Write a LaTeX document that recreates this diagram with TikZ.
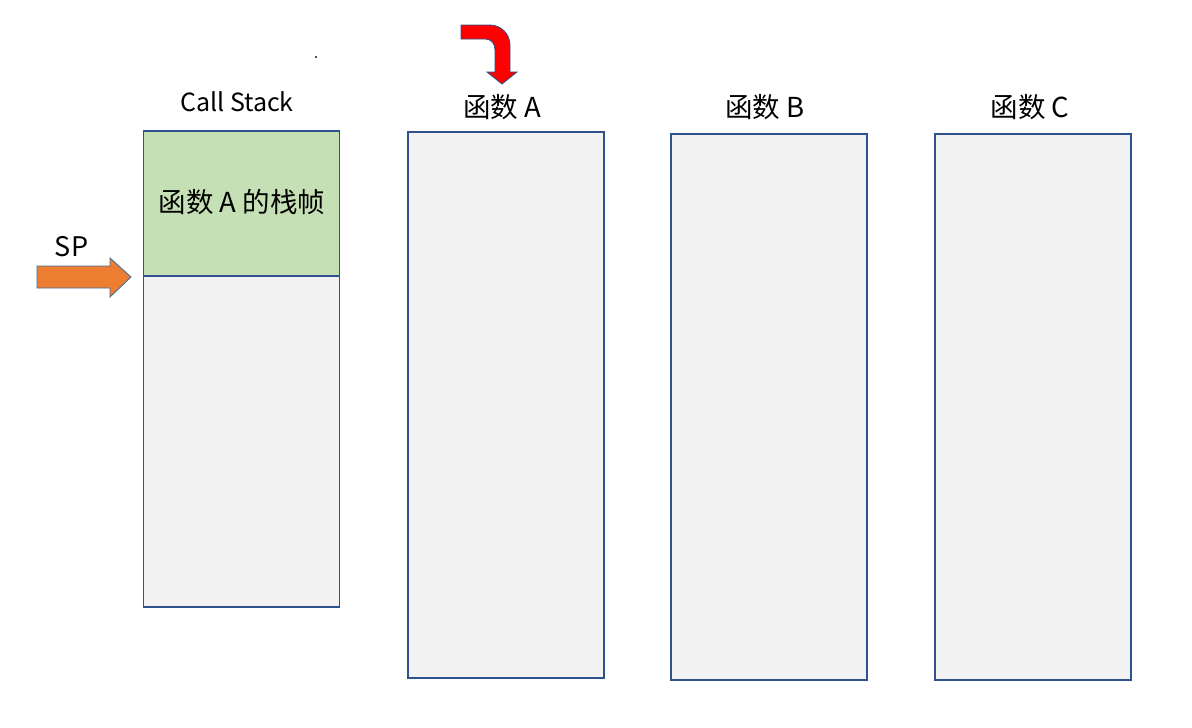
\documentclass[tikz,border=0pt]{standalone}
\usepackage{fontspec}
\setmainfont{Noto Sans CJK SC}
\definecolor{edgeblue}{HTML}{2F528F}
\definecolor{framegreen}{HTML}{C5E0B4}
\definecolor{framegray}{HTML}{F2F2F2}
\definecolor{sporange}{HTML}{ED7D31}
\definecolor{spedge}{HTML}{41719C}
\begin{document}
\begin{tikzpicture}[x=1pt,y=-1pt,
  membox/.style={draw=edgeblue,line width=1.3pt,fill=framegray,inner sep=0pt,minimum width=196pt},
  framebox/.style={draw=edgeblue,line width=1.3pt,fill=framegreen,inner sep=0pt,minimum width=196pt},
  title/.style={anchor=base,inner sep=0pt,font=\fontsize{25}{30}\selectfont},
  cjktitle/.style={anchor=base,inner sep=0pt,font=\fontsize{27.5}{32}\selectfont}]
\useasboundingbox (0,0) rectangle (1192,728);
\fill[white] (0,0) rectangle (1192,728);
% call stack
\node[membox,minimum height=331pt] (stackfree) at (241.5,441.5) {};
\node[framebox,minimum height=145pt] (frameA) at (241.5,203.5) {};
\node[cjktitle] (frameAtext) at (242,212) {函数 A 的栈帧};
\node[title] (stacktitle) at (237,111) {Call Stack};
% functions
\node[membox,minimum height=546pt] (funcA) at (506,405) {};
\node[membox,minimum height=546pt] (funcB) at (769,407) {};
\node[membox,minimum height=546pt] (funcC) at (1033,407) {};
\node[cjktitle] (funcAtitle) at (502,117) {函数 A};
\node[cjktitle] (funcBtitle) at (765,117) {函数 B};
\node[cjktitle] (funcCtitle) at (1030,117) {函数 C};
% SP pointer
\node[title,font=\fontsize{27}{32}\selectfont] (sptext) at (71.5,256) {SP};
\draw[spedge,line width=0.9pt,fill=sporange,line join=miter]
  (37,266) -- (110,266) -- (110,258) -- (131,277) -- (110,297) -- (110,288) -- (37,288) -- cycle;
% red bent arrow
\draw[edgeblue,line width=0.8pt,fill=red,line join=miter]
  (461,25) -- (490,25) .. controls (501,25) and (510,34) .. (510,45)
  -- (510,72) -- (517,72) -- (502,84) -- (487,72) -- (495,72) -- (495,50)
  .. controls (495,43) and (491,39) .. (485,39) -- (461,39) -- cycle;
% stray dot
\fill[black!70] (315,56) rectangle (317,58);
\end{tikzpicture}
\end{document}
